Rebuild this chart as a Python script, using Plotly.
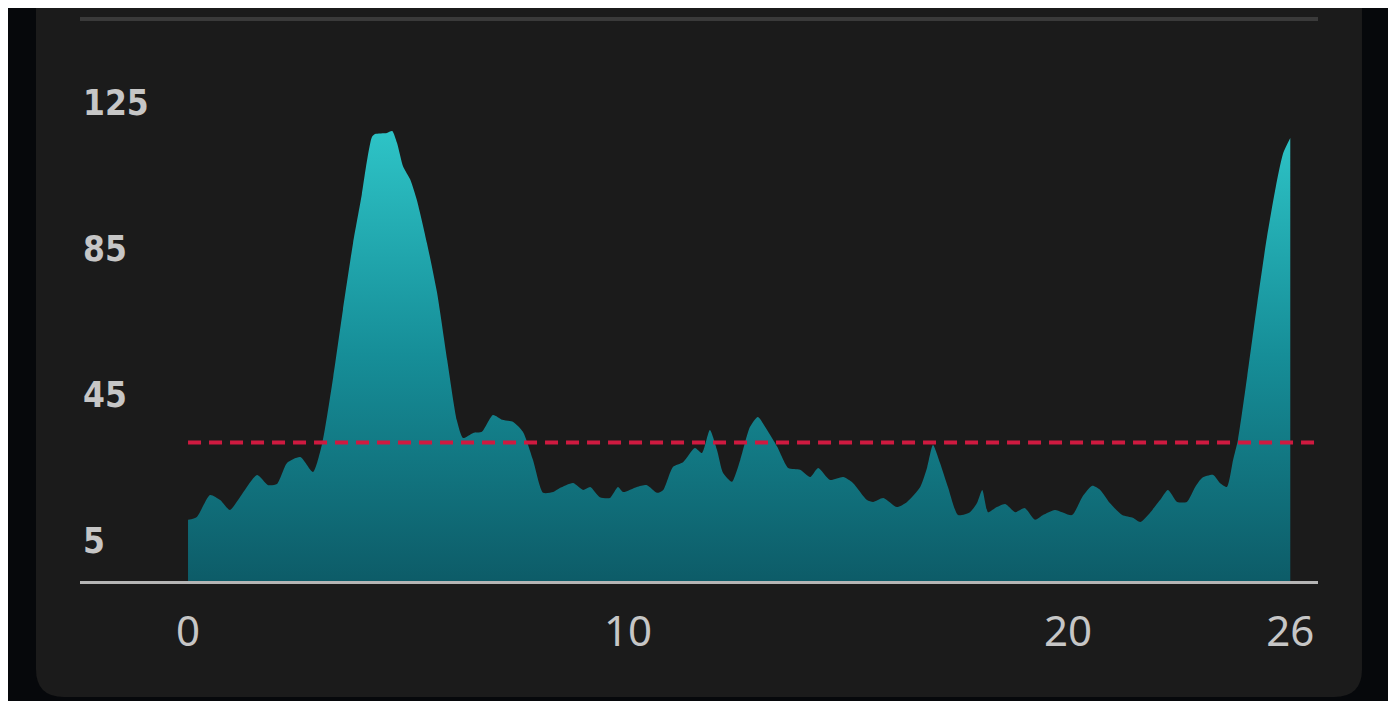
import plotly.graph_objects as go

# ---- data ----
x_vals = [0.00, 0.20, 0.50, 0.73, 0.95, 1.18, 1.57, 1.82, 2.02, 2.25, 2.55, 2.84,
          3.05, 3.30, 3.52, 3.75, 3.95, 4.07, 4.18, 4.25, 4.52, 4.64, 4.75, 4.89,
          5.05, 5.20, 5.43, 5.66, 5.89, 6.11, 6.25, 6.48, 6.68, 6.93, 7.14, 7.39,
          7.61, 7.84, 8.07, 8.30, 8.45, 8.75, 8.98, 9.14, 9.36, 9.59, 9.77, 9.89,
          10.20, 10.43, 10.66, 10.80, 11.02, 11.25, 11.52, 11.68, 11.86, 12.02, 12.16, 12.36,
          12.55, 12.77, 12.95, 13.16, 13.39, 13.64, 13.91, 14.14, 14.32, 14.59, 14.89, 15.11,
          15.43, 15.57, 15.80, 16.11, 16.34, 16.64, 16.80, 16.93, 17.09, 17.27, 17.50, 17.77,
          17.93, 18.05, 18.18, 18.34, 18.57, 18.80, 19.02, 19.25, 19.43, 19.70, 20.09, 20.32,
          20.55, 20.73, 20.95, 21.23, 21.48, 21.64, 21.86, 22.09, 22.27, 22.48, 22.70, 22.89,
          23.05, 23.30, 23.45, 23.61, 23.75, 23.86, 24.07, 24.30, 24.52, 24.75, 24.89, 25.05]
y_vals = [10.8, 11.6, 17.6, 16.2, 13.5, 17.0, 23.1, 20.3, 20.6, 26.4, 28.0, 23.9,
          31.8, 49.9, 68.3, 86.6, 100.0, 109.4, 115.7, 116.5, 116.8, 117.3, 114.0, 107.5,
          104.0, 98.4, 86.6, 73.0, 54.6, 38.0, 33.2, 34.6, 34.9, 39.5, 38.2, 37.6,
          34.9, 27.2, 18.2, 18.4, 19.5, 20.9, 19.0, 19.8, 17.0, 16.8, 19.8, 18.4,
          19.8, 20.3, 18.2, 19.0, 25.3, 26.6, 30.5, 29.1, 35.4, 30.0, 23.6, 21.2,
          27.2, 36.2, 39.0, 35.4, 30.8, 25.0, 24.5, 22.5, 25.0, 21.7, 22.5, 20.9,
          16.2, 15.7, 16.8, 14.3, 15.7, 19.8, 25.3, 31.3, 26.4, 19.8, 12.1, 12.9,
          15.4, 19.0, 12.9, 14.0, 15.1, 12.9, 14.0, 10.8, 12.1, 13.5, 12.1, 17.0,
          20.1, 19.0, 15.4, 12.1, 11.3, 10.2, 12.7, 16.2, 19.0, 15.7, 15.7, 19.8,
          22.3, 23.1, 20.9, 19.8, 27.2, 32.7, 50.0, 70.2, 88.3, 103.9, 111.3, 115.4]
threshold = 32
y_tick_vals = [5, 45, 85, 125]
x_tick_vals = [0, 10, 20, 25.05]
x_tick_text = ["0", "10", "20", "26"]

# ---- layout geometry (page px; the page body has an 8px margin) ----
OFF = 8
W, H = 1396 - 2 * OFF + 2, 701 - OFF
PL, PR, PT, PB = 80, 1318, 19, 581   # plot area in page px
Y_RANGE = [-5.96, 148.0]
X_RANGE = [-2.455, 25.68]


def P(px, py):
    return (px - PL) / (PR - PL), (PB - py) / (PB - PT)


def path(points):
    s = ""
    for cmd, pts in points:
        s += cmd + " ".join("%.5f,%.5f" % P(*p) for p in pts) + " "
    return s + "Z"


shapes = []
# dark surround
x0, y0 = P(OFF, OFF)
x1, y1 = P(OFF + W, OFF + H)
shapes.append(dict(type="rect", xref="paper", yref="paper", x0=x0, y0=y0, x1=x1, y1=y1,
                   fillcolor="#06080b", line_width=0, layer="below"))
# card with rounded bottom corners
r = 28
card = [("M", [(36, 0)]), ("L", [(1362, 0)]), ("L", [(1362, 697 - r)]),
        ("Q", [(1362, 697), (1362 - r, 697)]), ("L", [(36 + r, 697)]),
        ("Q", [(36, 697), (36, 697 - r)])]
shapes.append(dict(type="path", xref="paper", yref="paper", path=path(card),
                   fillcolor="#1b1b1b", line_width=0, layer="below"))
# top separator line
tx0, ty = P(PL, 19)
tx1, _ = P(PR, 19)
shapes.append(dict(type="line", xref="paper", yref="paper", x0=tx0, x1=tx1, y0=ty, y1=ty,
                   line=dict(color="#3a3a3a", width=4), layer="below"))
# threshold dashed line
shapes.append(dict(type="line", xref="x", yref="y", x0=0, x1=X_RANGE[1], y0=threshold, y1=threshold,
                   line=dict(color="#cf1a40", width=4, dash="13px,8px"), layer="above"))

fig = go.Figure()
fig.add_trace(go.Scatter(x=[x_vals[0], x_vals[-1]], y=[Y_RANGE[0], Y_RANGE[0]], mode="lines",
                         line=dict(width=0, color="rgba(0,0,0,0)"), hoverinfo="skip", showlegend=False))
fig.add_trace(go.Scatter(x=x_vals, y=y_vals, mode="lines", fill="tonexty",
                         line=dict(width=0, color="#1a9aa3", shape="spline", smoothing=0.6),
                         fillgradient=dict(type="vertical", start=Y_RANGE[0], stop=118,
                                           colorscale=[[0, "#0d5c68"], [0.5, "#168e98"], [1, "#2ec4c7"]]),
                         showlegend=False))

fig.update_layout(
    width=W, height=H,
    margin=dict(l=PL - OFF, r=(OFF + W) - PR, t=PT - OFF, b=(OFF + H) - PB, pad=0),
    paper_bgcolor="#ffffff", plot_bgcolor="rgba(0,0,0,0)",
    shapes=shapes, showlegend=False,
    xaxis=dict(range=X_RANGE, tickvals=x_tick_vals, ticktext=x_tick_text,
               showgrid=False, zeroline=False, showline=True, linecolor="#b5b5b5", linewidth=3,
               ticks="outside", ticklen=12, tickcolor="rgba(0,0,0,0)",
               tickfont=dict(family="Noto Sans, Roboto, sans-serif", size=42, color="#c6c6c6")),
    yaxis=dict(range=Y_RANGE, tickvals=y_tick_vals, ticklabelposition="inside",
               showgrid=False, zeroline=False, showline=False, ticks="",
               tickfont=dict(family="DejaVu Sans Condensed, sans-serif",
                             size=35, color="#c6c6c6", weight="bold")),
)

fig.write_html("out.html")
